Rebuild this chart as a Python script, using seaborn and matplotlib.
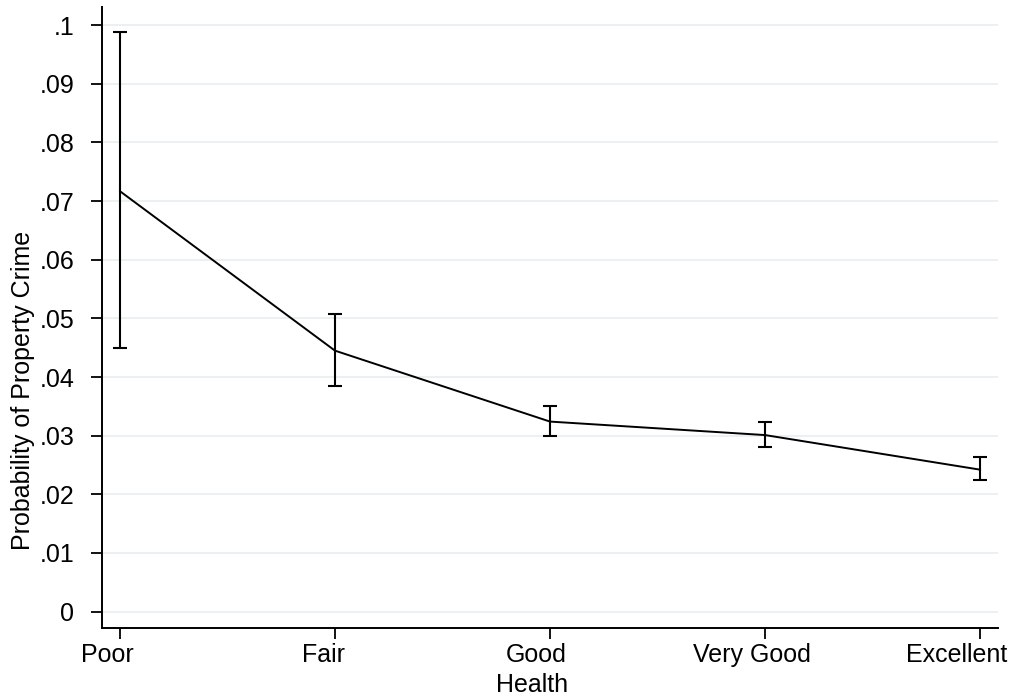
import matplotlib
matplotlib.use("Agg")
import matplotlib.pyplot as plt
import matplotlib.transforms as mtransforms
import seaborn as sns
import pandas as pd
import numpy as np

categories = ["Poor", "Fair", "Good", "Very Good", "Excellent"]
prob = [0.0717, 0.0445, 0.0324, 0.0301, 0.0242]
ci_low = [0.0449, 0.0384, 0.0299, 0.0280, 0.0224]
ci_high = [0.0988, 0.0507, 0.0350, 0.0323, 0.0263]
yticks = [0, 0.01, 0.02, 0.03, 0.04, 0.05, 0.06, 0.07, 0.08, 0.09, 0.1]
ytick_labels = ["0", ".01", ".02", ".03", ".04", ".05", ".06", ".07", ".08", ".09", ".1"]

sns.set_style("white")
plt.rcParams["font.family"] = ["Liberation Sans", "DejaVu Sans"]
plt.rcParams["text.color"] = "black"
plt.rcParams["axes.labelcolor"] = "black"
plt.rcParams["xtick.color"] = "black"
plt.rcParams["ytick.color"] = "black"

df = pd.DataFrame({"pos": np.arange(len(categories)), "prob": prob,
                   "lo": ci_low, "hi": ci_high})

fig = plt.figure(figsize=(10.13, 6.98), dpi=100)
ax = fig.add_axes([102 / 1013, 1 - 628 / 698, (998 - 102) / 1013, (628 - 7) / 698])

for y in yticks:
    ax.axhline(y, color="#e8eff1", lw=1.2, zorder=0)

sns.lineplot(data=df, x="pos", y="prob", ax=ax, color="black", lw=1.4, zorder=3)
ax.errorbar(df["pos"], df["prob"],
            yerr=[df["prob"] - df["lo"], df["hi"] - df["prob"]],
            fmt="none", ecolor="black", elinewidth=1.5, capsize=4.8, capthick=1.5, zorder=4)

ax.set_xlim(-0.083, 4.083)
ax.set_ylim(-0.0028, 0.1031)
ax.set_xticks(df["pos"])
ax.set_xticklabels(categories)
ax.set_yticks(yticks)
ax.set_yticklabels(ytick_labels)

for s in ["top", "right"]:
    ax.spines[s].set_visible(False)
for s in ["left", "bottom"]:
    ax.spines[s].set_color("black")
    ax.spines[s].set_linewidth(1.4)

ax.tick_params(axis="y", direction="out", length=8, width=1.3,
               labelsize=18, pad=12, left=True, labelcolor="black")
ax.tick_params(axis="x", direction="out", length=8, width=1.3,
               labelsize=18, pad=3, bottom=True, labelcolor="black")

# Shift x tick labels slightly left, as in the reference
shifts_px = [-12, -11, -14, -13, -24]
for lab, dx in zip(ax.get_xticklabels(), shifts_px):
    lab.set_transform(lab.get_transform() +
                      mtransforms.ScaledTranslation(dx / 100, 0, fig.dpi_scale_trans))

ax.set_xlabel("Health", fontsize=18, color="black")
ax.set_ylabel("Probability of Property Crime", fontsize=18, color="black")
ax.xaxis.set_label_coords((532 - 102) / 896, (628 - 685) / 621)
ax.yaxis.set_label_coords((23 - 102) / 896, (628 - 390) / 621)
ax.xaxis.label.set_va("center")
ax.yaxis.label.set_va("center")

fig.savefig("out.png", dpi=100, facecolor="white")
